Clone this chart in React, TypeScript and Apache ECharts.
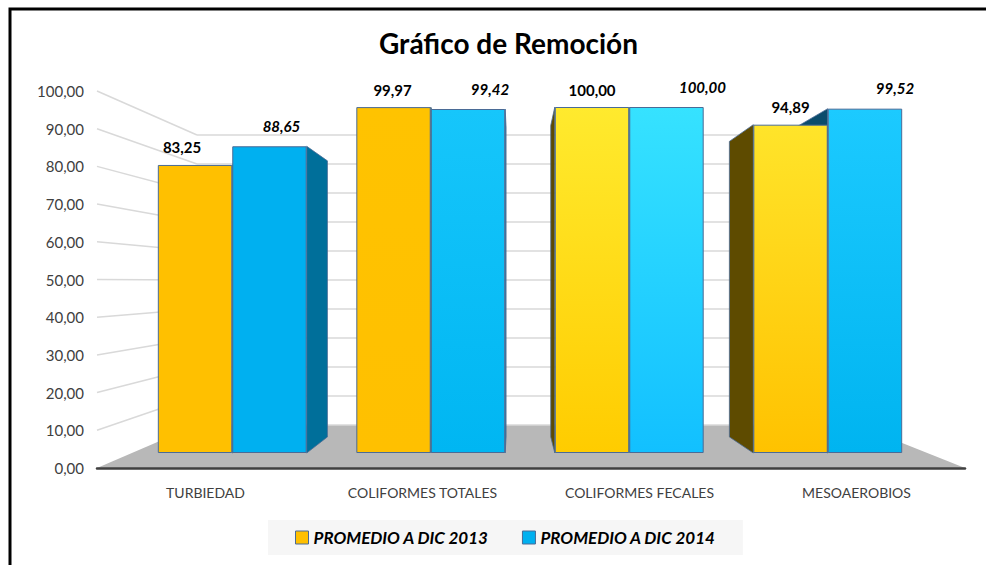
import React, { useEffect, useRef } from "react";
import * as echarts from "echarts";

// ---------- data ----------
const categories = ["TURBIEDAD", "COLIFORMES TOTALES", "COLIFORMES FECALES", "MESOAEROBIOS"];
const seriesNames = ["PROMEDIO A DIC 2013", "PROMEDIO A DIC 2014"];
const values2013 = [83.25, 99.97, 100.0, 94.89];
const values2014 = [88.65, 99.42, 100.0, 99.52];
const yMin = 0;
const yMax = 100;
const yStep = 10;
const titleText = "Gráfico de Remoción";

// ---------- styling / layout ----------
const W = 986;
const H = 565;
const FRONT = { left: 97, right: 21, top: 91, bottom: 97 };
const BARS = { left: 133, right: 59, top: 107, bottom: 112 };
const BACK = { left: 197, right: 129, top: 135, bottom: 140 };
const VP = [514, 292];
const DEPTH = 0.9;
const BAR_RATIO = 0.375;

const shades2013 = [
  ["#ffc000", "#ffc000"],
  ["#ffc300", "#ffc000"],
  ["#ffea2e", "#ffcc00"],
  ["#ffe42a", "#ffc200"],
];
const shades2014 = [
  ["#00b0f0", "#00b0f0"],
  ["#16c6fb", "#00b6f2"],
  ["#36e2ff", "#12c0ff"],
  ["#1ccaff", "#00b4f0"],
];
const labelDx2013 = [-13, -1, 0, 0];
const labelDx2014 = [12, 22, 36, 30];
const sideColors2013 = { left: "#5e4b00", right: "#8a6d00" };
const sideColors2014 = { left: "#0b4c6c", right: "#006f9a" };
const EDGE = "#4a6b96";

const fmt = (v: number) => v.toFixed(2).replace(".", ",");
const FONT = "Lato, 'Open Sans', sans-serif";

function grad(c: string[]) {
  return new echarts.graphic.LinearGradient(0, 0, 0, 1, [
    { offset: 0, color: c[0] },
    { offset: 1, color: c[1] },
  ]);
}

function sideRenderer(pos: number, colors: { left: string; right: string }) {
  return (params: any, api: any) => {
    const idx = api.value(0);
    const v = api.value(1);
    const top = api.coord([idx, v]);
    const base = api.coord([idx, 0]);
    const band = api.size([1, 0])[0];
    const w = band * BAR_RATIO;
    const x0 = pos === 0 ? top[0] - w : top[0];
    const x1 = x0 + w;
    const yT = top[1];
    const yB = base[1];
    const proj = (x: number, y: number) => [VP[0] + (x - VP[0]) * DEPTH, VP[1] + (y - VP[1]) * DEPTH];
    let xe: number;
    let fill: string;
    if (VP[0] > x1) {
      xe = x1;
      fill = colors.right;
    } else if (VP[0] < x0) {
      xe = x0;
      fill = colors.left;
    } else {
      return null;
    }
    return {
      type: "polygon",
      shape: { points: [[xe, yT], proj(xe, yT), proj(xe, yB), [xe, yB]] },
      style: { fill, stroke: EDGE, lineWidth: 0.8 },
    };
  };
}

export default function App() {
  const ref = useRef<HTMLDivElement>(null);

  useEffect(() => {
    if (!ref.current) return;
    const chart = echarts.init(ref.current, undefined, { renderer: "svg" });

    const barData = (vals: number[], shades: string[][], dx: number[]) =>
      vals.map((v, i) => ({
        value: v,
        itemStyle: { color: grad(shades[i]) },
        label: { offset: [dx[i], 0] },
      }));

    const option: any = {
      animation: false,
      backgroundColor: "#ffffff",
      title: {
        text: titleText,
        left: 374,
        top: 24,
        textStyle: { fontFamily: FONT, fontWeight: "bold", fontSize: 28, color: "#000" },
      },
      legend: {
        left: 268,
        top: 520,
        padding: [9, 27],
        backgroundColor: "#f6f6f6",
        itemGap: 33,
        itemWidth: 13,
        itemHeight: 13,
        icon: "rect",
        textStyle: { fontFamily: FONT, fontWeight: "bold", fontStyle: "italic", fontSize: 17, color: "#000" },
        data: [
          { name: seriesNames[0], itemStyle: { color: "#ffc000", borderColor: EDGE, borderWidth: 1 } },
          { name: seriesNames[1], itemStyle: { color: "#00b0f0", borderColor: EDGE, borderWidth: 1 } },
        ],
      },
      grid: [
        { left: FRONT.left, right: FRONT.right, top: FRONT.top, bottom: FRONT.bottom },
        { left: BARS.left, right: BARS.right, top: BARS.top, bottom: BARS.bottom },
        { left: BACK.left, right: BACK.right, top: BACK.top, bottom: BACK.bottom },
      ],
      xAxis: [
        {
          gridIndex: 0,
          type: "category",
          data: categories,
          z: 5,
          axisLine: { show: true, lineStyle: { color: "#404040", width: 2.5 } },
          axisTick: { show: false },
          axisLabel: { margin: 17, fontFamily: FONT, fontSize: 14, color: "#404040" },
          splitLine: { show: false },
        },
        { gridIndex: 1, type: "category", data: categories, show: false },
        { gridIndex: 2, type: "category", data: categories, show: false },
      ],
      yAxis: [
        {
          gridIndex: 0,
          type: "value",
          min: yMin,
          max: yMax,
          interval: yStep,
          axisLine: { show: false },
          axisTick: { show: false },
          splitLine: { show: false },
          axisLabel: { margin: 13, fontFamily: FONT, fontSize: 15, color: "#404040", formatter: (v: number) => fmt(v) },
        },
        { gridIndex: 1, type: "value", min: yMin, max: yMax, show: false },
        {
          gridIndex: 2,
          type: "value",
          min: yMin,
          max: yMax,
          interval: yStep,
          axisLine: { show: false },
          axisTick: { show: false },
          axisLabel: { show: false },
          splitLine: { show: true, lineStyle: { color: "#d9d9d9", width: 1.5 } },
        },
      ],
      series: [
        {
          name: "side2013",
          type: "custom",
          xAxisIndex: 1,
          yAxisIndex: 1,
          z: 2,
          silent: true,
          renderItem: sideRenderer(0, sideColors2013),
          data: values2013.map((v, i) => [i, v]),
        },
        {
          name: "side2014",
          type: "custom",
          xAxisIndex: 1,
          yAxisIndex: 1,
          z: 2,
          silent: true,
          renderItem: sideRenderer(1, sideColors2014),
          data: values2014.map((v, i) => [i, v]),
        },
        {
          name: seriesNames[0],
          type: "bar",
          xAxisIndex: 1,
          yAxisIndex: 1,
          z: 3,
          barGap: "0%",
          barCategoryGap: "25%",
          itemStyle: { color: "#ffc000", borderColor: EDGE, borderWidth: 1 },
          label: {
            show: true,
            position: "top",
            distance: 10,
            fontFamily: FONT,
            fontWeight: "bold",
            fontSize: 15,
            color: "#000",
            formatter: (p: any) => fmt(p.value),
          },
          data: barData(values2013, shades2013, labelDx2013),
        },
        {
          name: seriesNames[1],
          type: "bar",
          xAxisIndex: 1,
          yAxisIndex: 1,
          z: 3,
          barGap: "0%",
          barCategoryGap: "25%",
          itemStyle: { color: "#00b0f0", borderColor: EDGE, borderWidth: 1 },
          label: {
            show: true,
            position: "top",
            distance: 13,
            fontFamily: FONT,
            fontWeight: "bold",
            fontStyle: "italic",
            fontSize: 15,
            color: "#000",
            formatter: (p: any) => fmt(p.value),
          },
          data: barData(values2014, shades2014, labelDx2014),
        },
      ],
    };

    chart.setOption(option);

    // perspective decorations built from the axes' own scales
    const yF = (v: number) => chart.convertToPixel({ yAxisIndex: 0 } as any, v) as unknown as number;
    const yBk = (v: number) => chart.convertToPixel({ yAxisIndex: 2 } as any, v) as unknown as number;
    const fl = FRONT.left;
    const fr = W - FRONT.right;
    const bl = BACK.left;
    const br = W - BACK.right;
    const ticks: number[] = [];
    for (let v = yMin; v <= yMax; v += yStep) ticks.push(v);

    const graphic: any[] = [
      {
        type: "polygon",
        z: -1,
        silent: true,
        shape: { points: [[fl, yF(yMin)], [bl, yBk(yMin)], [br, yBk(yMin)], [fr, yF(yMin)]] },
        style: { fill: "#b8b8b8" },
      },
      ...ticks
        .filter((v) => v > yMin)
        .map((v) => ({
          type: "line",
          z: -1,
          silent: true,
          shape: { x1: fl, y1: yF(v), x2: bl, y2: yBk(v) },
          style: { stroke: "#d9d9d9", lineWidth: 1.5 },
        })),
      {
        type: "rect",
        z: 100,
        silent: true,
        shape: { x: 10, y: 9, width: 1000, height: 600 },
        style: { fill: "none", stroke: "#000", lineWidth: 3 },
      },
    ];
    chart.setOption({ graphic });

    return () => chart.dispose();
  }, []);

  return <div ref={ref} style={{ position: "fixed", left: 0, top: 0, width: W, height: H }} />;
}
